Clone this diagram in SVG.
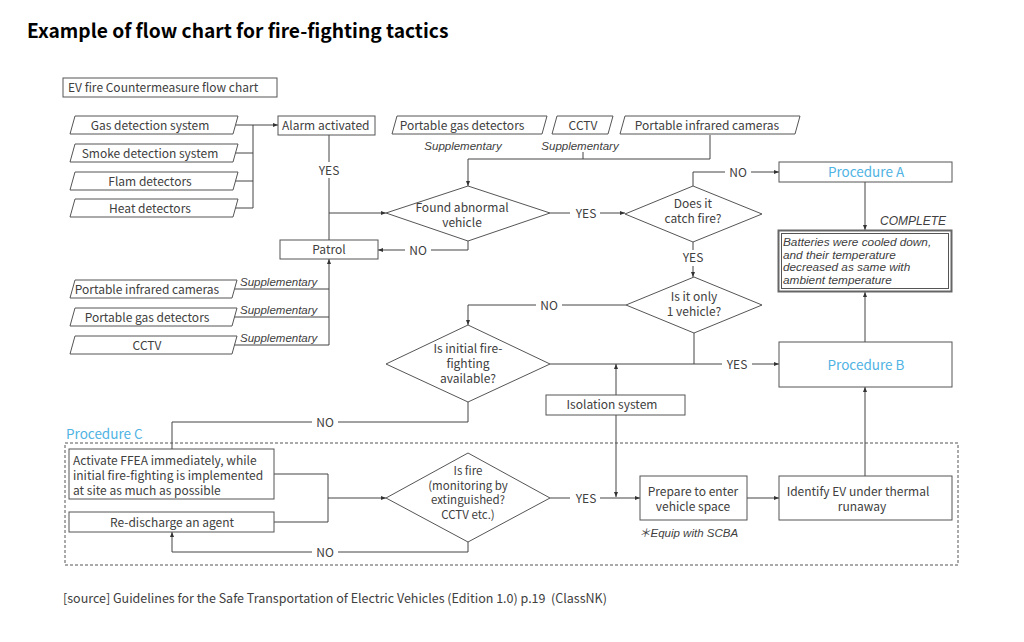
<svg xmlns="http://www.w3.org/2000/svg" width="1024" height="642" viewBox="0 0 1024 642">
<defs>
<marker id="ah" viewBox="0 0 10 10" refX="10" refY="5" markerWidth="5" markerHeight="5" orient="auto" markerUnits="userSpaceOnUse"><path d="M0,1 L10,5 L0,9 z" fill="#333"/></marker>
</defs>
<style>
text{font-family:"Noto Sans CJK JP","Noto Sans",sans-serif;fill:#404040;font-size:12px}
.c{text-anchor:middle}
.it{font-family:"Liberation Sans","Noto Sans CJK JP",sans-serif;font-style:italic;font-size:11.5px}
.blue{fill:#4fb3e3;font-size:13.5px}
.box{fill:#fff;stroke:#555;stroke-width:1}
.ln{fill:none;stroke:#444;stroke-width:1}
.ar{fill:none;stroke:#444;stroke-width:1;marker-end:url(#ah)}
.lbl{fill:#fff;stroke:none}
</style>
<rect width="1024" height="642" fill="#fff"/>
<text x="27" y="38" style="font-size:19.2px;font-weight:bold;fill:#000">Example of flow chart for fire-fighting tactics</text>

<g id="connectors">
<path class="ln" d="M236,125 H253 M234,153 H253 M234,181 H253 M234,208 H253 M253,125 V208"/>
<path class="ar" d="M253,125 H278"/>
<path class="ln" d="M329,135 V240"/>
<path class="ar" d="M329,213 H386"/>
<path class="ar" d="M468,241 V250 H378"/>
<path class="ln" d="M710,135 V159 H468 M583,152 V159"/>
<path class="ar" d="M468,159 V186"/>
<path class="ar" d="M550,213 H625"/>
<path class="ar" d="M693,186 V172 H779"/>
<path class="ar" d="M865,182 V230"/>
<path class="ar" d="M693,242 V277"/>
<path class="ar" d="M626,305 H468 V325"/>
<path class="ar" d="M550,364 H779"/>
<path class="ln" d="M694,333 V364"/>
<path class="ar" d="M616,395 V364"/>
<path class="ar" d="M616,415 V497"/>
<path class="ar" d="M865,342 V292"/>
<path class="ln" d="M468,402 V422 H172 V449"/>
<path class="ln" d="M235,289 H329 M233,317 H329 M233,345 H329"/>
<path class="ar" d="M329,345 V259"/>
<path class="ln" d="M274,474 H328 V522 H274"/>
<path class="ar" d="M328,498 H386"/>
<path class="ar" d="M550,498 H640"/>
<path class="ar" d="M468,542 V552 H172 V532"/>
<path class="ar" d="M747,498 H779"/>
<path class="ar" d="M865,476 V387"/>
<rect class="lbl" x="314" y="162" width="30" height="16"/>
<text x="329" y="175" class="c">YES</text>
<rect class="lbl" x="405" y="243" width="26" height="15"/>
<text x="418" y="255" class="c">NO</text>
<rect class="lbl" x="570" y="206" width="30" height="15"/>
<text x="586" y="218" class="c">YES</text>
<rect class="lbl" x="725" y="165" width="26" height="15"/>
<text x="738" y="177" class="c">NO</text>
<rect class="lbl" x="678" y="250" width="30" height="16"/>
<text x="693" y="262" class="c">YES</text>
<rect class="lbl" x="536" y="298" width="26" height="15"/>
<text x="549" y="310" class="c">NO</text>
<rect class="lbl" x="722" y="357" width="30" height="15"/>
<text x="737" y="369" class="c">YES</text>
<rect class="lbl" x="312" y="415" width="26" height="15"/>
<text x="325" y="427" class="c">NO</text>
<rect class="lbl" x="570" y="491" width="30" height="15"/>
<text x="586" y="503" class="c">YES</text>
<rect class="lbl" x="312" y="545" width="26" height="15"/>
<text x="325" y="557" class="c">NO</text>
<text x="463" y="150" class="c it">Supplementary</text>
<text x="580" y="150" class="c it">Supplementary</text>
<text x="240" y="286" class="it">Supplementary</text>
<text x="240" y="314" class="it">Supplementary</text>
<text x="240" y="342" class="it">Supplementary</text>
<text x="880" y="225" class="it" style="font-size:12px">COMPLETE</text>
</g>

<g id="title-box"><rect class="box" x="63" y="78" width="214" height="19"/><text x="68" y="92">EV fire Countermeasure flow chart</text></g>

<g id="gas-detection"><polygon class="box" points="75,116 238,116 233,134 70,134"/><text x="150" y="130" class="c">Gas detection system</text></g>
<g id="smoke-detection"><polygon class="box" points="75,144 238,144 233,162 70,162"/><text x="150" y="158" class="c">Smoke detection system</text></g>
<g id="flam-detectors"><polygon class="box" points="75,172 238,172 233,190 70,190"/><text x="150" y="186" class="c">Flam detectors</text></g>
<g id="heat-detectors"><polygon class="box" points="75,199 238,199 233,217 70,217"/><text x="150" y="213" class="c">Heat detectors</text></g>

<g id="alarm"><rect class="box" x="278" y="116" width="97" height="19"/><text x="282" y="130">Alarm activated</text></g>
<g id="patrol"><rect class="box" x="280" y="240" width="98" height="19"/><text x="329" y="254" class="c">Patrol</text></g>

<g id="top-gas"><polygon class="box" points="397,116 547,116 542,134 392,134"/><text x="462" y="130" class="c">Portable gas detectors</text></g>
<g id="top-cctv"><polygon class="box" points="557,116 613,116 608,134 552,134"/><text x="583" y="130" class="c">CCTV</text></g>
<g id="top-ir"><polygon class="box" points="625,116 800,116 795,134 620,134"/><text x="707" y="130" class="c">Portable infrared cameras</text></g>

<g id="found-abnormal"><polygon class="box" points="386,213 468,186 550,213 468,241"/><text x="462" y="212" class="c">Found abnormal<tspan x="462" dy="15">vehicle</tspan></text></g>
<g id="catch-fire"><polygon class="box" points="625,214 693,186 762,214 693,242"/><text x="693" y="208" class="c">Does it<tspan x="693" dy="15">catch fire?</tspan></text></g>

<g id="procedure-a"><rect class="box" x="779" y="162" width="173" height="20"/><text x="866" y="177" class="c blue">Procedure A</text></g>
<g id="batteries"><rect x="778.5" y="230.5" width="173" height="61" fill="#fff" stroke="#666" stroke-width="2"/><rect x="781.5" y="233.5" width="167" height="55" fill="none" stroke="#555"/>
<text x="783" y="246" class="it" style="font-size:11.8px">Batteries were cooled down,<tspan x="783" dy="12.5">and their temperature</tspan><tspan x="783" dy="12.5">decreased as same with</tspan><tspan x="783" dy="12.5">ambient temperature</tspan></text></g>

<g id="only-one"><polygon class="box" points="626,305 694,277 762,305 694,333"/><text x="694" y="301" class="c">Is it only<tspan x="694" dy="15">1 vehicle?</tspan></text></g>

<g id="bottom-ir"><polygon class="box" points="75,280 237,280 232,298 70,298"/><text x="147" y="294" class="c">Portable infrared cameras</text></g>
<g id="bottom-gas"><polygon class="box" points="75,308 237,308 232,326 70,326"/><text x="147" y="322" class="c">Portable gas detectors</text></g>
<g id="bottom-cctv"><polygon class="box" points="75,336 237,336 232,354 70,354"/><text x="147" y="350" class="c">CCTV</text></g>

<g id="initial-ff"><polygon class="box" points="386,364 468,325 550,364 468,402"/><text x="468" y="353" class="c">Is initial fire-<tspan x="468" dy="15">fighting</tspan><tspan x="468" dy="15">available?</tspan></text></g>

<g id="procedure-b"><rect class="box" x="779" y="342" width="173" height="45"/><text x="866" y="370" class="c blue">Procedure B</text></g>
<g id="isolation"><rect class="box" x="546" y="395" width="139" height="20"/><text x="612" y="409" class="c">Isolation system</text></g>

<g id="procedure-c"><rect x="65" y="443" width="893" height="122" fill="none" stroke="#555" stroke-dasharray="3,2"/><text x="66" y="439" class="blue">Procedure C</text></g>

<g id="activate"><rect class="box" x="69" y="449" width="205" height="50"/>
<text x="73" y="465">Activate FFEA immediately, while<tspan x="73" dy="15">initial fire-fighting is implemented</tspan><tspan x="73" dy="15">at site as much as possible</tspan></text></g>
<g id="redischarge"><rect class="box" x="69" y="512" width="205" height="20"/><text x="172" y="527" class="c">Re-discharge an agent</text></g>

<g id="is-fire"><polygon class="box" points="386,498 468,453 550,498 468,542"/>
<text x="468" y="475" class="c" style="font-size:11.5px">Is fire<tspan x="468" dy="14.5">(monitoring by</tspan><tspan x="468" dy="14.5">extinguished?</tspan><tspan x="468" dy="14.5">CCTV etc.)</tspan></text></g>

<g id="prepare"><rect class="box" x="640" y="476" width="107" height="44"/><text x="693" y="496" class="c">Prepare to enter<tspan x="693" dy="15">vehicle space</tspan></text><text x="639" y="537" class="it">＊Equip with SCBA</text></g>
<g id="identify"><rect class="box" x="779" y="476" width="173" height="44"/><text x="858" y="496" class="c">Identify EV under thermal<tspan x="862" dy="15">runaway</tspan></text></g>

<text x="63" y="603" style="font-size:12.5px" xml:space="preserve">[source] Guidelines for the Safe Transportation of Electric Vehicles (Edition 1.0) p.19  (ClassNK)</text>
</svg>
